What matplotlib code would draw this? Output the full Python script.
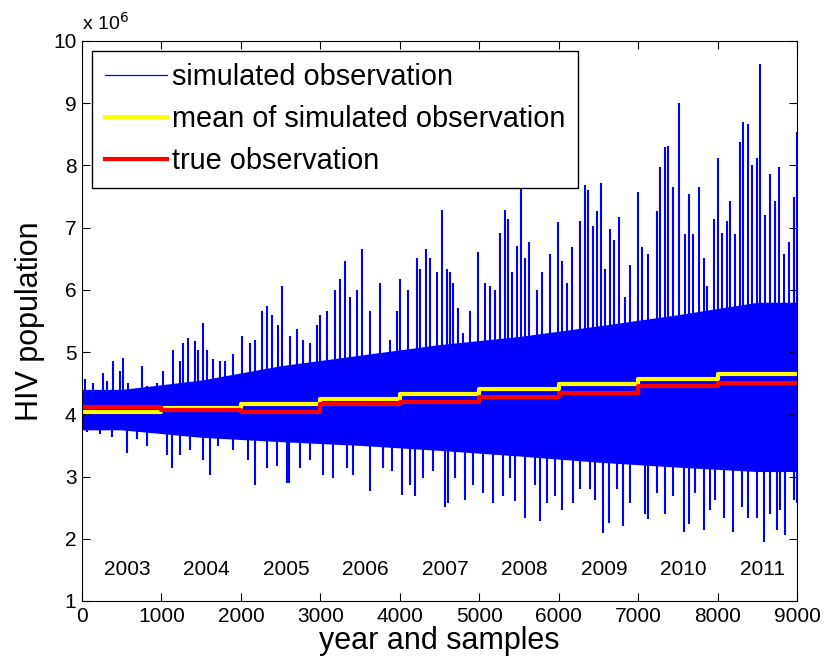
import numpy as np
import matplotlib.pyplot as plt

plt.rcParams['font.family'] = ['Liberation Sans', 'DejaVu Sans']

# year blocks (samples) and labels
year_start = [0, 1000, 2000, 3000, 4000, 5000, 6000, 7000, 8000]
years = ['2003', '2004', '2005', '2006', '2007', '2008', '2009', '2010', '2011']

# per-year levels, x 10^6
mean_sim = [4.03, 4.10, 4.17, 4.25, 4.33, 4.40, 4.49, 4.57, 4.64]
true_obs = [4.11, 4.07, 4.03, 4.17, 4.19, 4.27, 4.34, 4.46, 4.50]

# dense body of the simulated observations, read at the middle of each year
core_top = [4.40, 4.55, 4.78, 4.95, 5.12, 5.25, 5.42, 5.60, 5.80]
core_bot = [3.75, 3.63, 3.56, 3.50, 3.42, 3.33, 3.23, 3.15, 3.08]

# visible upward spikes (sample, value)
up_x = [38, 143, 269, 311, 395, 479, 512, 584, 751, 814, 940, 1024, 1150, 1234, 1268, 1339, 1423, 1465,
        1528, 1570, 1654, 1738, 1801, 1906, 2011, 2116, 2179, 2262, 2325, 2388, 2472, 2514, 2619, 2703, 2787, 2871, 2955,
        2996, 3080, 3185, 3248, 3311, 3374, 3458, 3521, 3626, 3752, 3877, 3961, 4003, 4108, 4213, 4255, 4331, 4381, 4465,
        4528, 4591, 4633, 4675, 4738, 4801, 4885, 4990, 5074, 5137, 5200, 5262, 5325, 5367, 5409, 5472, 5523, 5577, 5632,
        5724, 5787, 5892, 5997,
        6039, 6102, 6165, 6270, 6333, 6375, 6438, 6480, 6530, 6585, 6648, 6690, 6765, 6836, 6899, 7004, 7046, 7130, 7235,
        7269, 7340, 7382, 7445, 7516,
        7592, 7634, 7688, 7760, 7823, 7865, 7949, 8003, 8054, 8117, 8159, 8222, 8276, 8326, 8389, 8431, 8494, 8528, 8599,
        8662, 8725, 8767, 8830, 8893, 8956, 8998]
up_y = [4.57, 4.51, 4.66, 4.54, 4.86, 4.69, 4.90, 4.50, 4.77, 4.46, 4.51, 4.69, 5.03, 4.86, 5.14, 5.23, 5.17, 5.03,
        5.46, 5.03, 4.89, 4.86, 4.86, 4.97, 5.26, 5.14, 5.20, 5.66, 5.74, 5.60, 5.43, 6.06, 5.26, 5.37, 5.20, 5.14, 5.43,
        5.60, 5.66, 6.00, 6.17, 6.46, 5.89, 6.00, 6.66, 5.66, 6.11, 5.20, 5.66, 6.17, 6.00, 6.51, 6.34, 6.66, 6.51, 6.29,
        7.29, 6.34, 6.29, 6.11, 5.71, 5.31, 5.66, 6.60, 6.11, 6.06, 6.00, 6.91, 7.29, 7.14, 6.29, 6.71, 7.71, 6.51, 6.77,
        6.00, 6.29, 6.57, 7.09,
        6.46, 6.11, 6.69, 7.11, 7.69, 7.60, 7.03, 7.26, 7.71, 6.34, 6.97, 6.80, 7.17, 5.89, 6.40, 7.57, 6.69, 6.57, 7.26,
        7.97, 8.29, 8.31, 7.66, 9.00,
        6.89, 7.54, 6.89, 7.66, 6.51, 6.06, 7.14, 8.11, 6.91, 7.11, 7.43, 6.89, 8.37, 8.69, 8.66, 8.00, 8.11, 9.63, 7.20,
        7.86, 7.43, 7.97, 6.57, 6.77, 7.49, 8.54]

# visible downward spikes (sample, value)
dn_x = [59, 227, 374, 563, 688, 814, 1066, 1129, 1234, 1360,
        1528, 1612, 1717, 1906, 2095, 2179, 2325, 2451, 2577, 2611, 2745, 2871,
        3038, 3164, 3332, 3416, 3626, 3793, 3898, 4024, 4129, 4192, 4297, 4423,
        4570, 4612, 4696, 4822, 4927, 5053, 5179, 5304, 5388, 5451, 5577, 5703, 5766, 5850, 5955,
        6039, 6186, 6270, 6396, 6459, 6564, 6627, 6731, 6815, 6899, 7025, 7088, 7130, 7235, 7340, 7445,
        7571, 7634, 7718, 7823, 7907, 7970, 8075, 8200, 8305, 8389, 8494, 8578, 8662, 8746, 8788, 8851, 8956, 8998]
dn_y = [3.71, 3.69, 3.63, 3.37, 3.60, 3.49, 3.34, 3.14, 3.34, 3.43,
        3.26, 3.03, 3.49, 3.43, 3.26, 2.86, 3.14, 3.17, 2.89, 2.89, 3.14, 3.26,
        3.03, 2.97, 3.14, 3.03, 2.77, 3.14, 3.09, 2.71, 2.86, 2.69, 2.97, 3.09,
        2.51, 2.57, 2.97, 2.63, 2.86, 2.74, 2.57, 2.69, 2.97, 2.60, 2.34, 2.86, 2.29, 2.57, 2.69,
        2.46, 2.57, 2.80, 2.80, 2.63, 2.09, 2.26, 2.80, 2.20, 2.57, 3.26, 2.40, 2.31, 2.74, 2.40, 2.69,
        2.11, 2.23, 2.74, 2.14, 2.46, 2.63, 2.34, 2.11, 2.51, 2.34, 2.34, 1.94, 2.40, 2.14, 2.46, 2.06, 2.63, 2.57]

scale = 1e6
edges = year_start + [9000]
blue = (0, 0, 1)

fig = plt.figure(figsize=(8.25, 6.7), dpi=100)
ax = fig.add_axes([0.0994, 0.103, 0.8667, 0.836])

# simulated observations: dense body plus the single samples that stick out of it
mid = [0] + [s + 500 for s in year_start] + [9000]
body_hi = np.array([core_top[0]] + core_top + [core_top[-1]])
body_lo = np.array([core_bot[0]] + core_bot + [core_bot[-1]])
ax.fill_between(mid, body_lo * scale, body_hi * scale, color=blue, lw=0)
ax.vlines(up_x, 4.2 * scale, np.array(up_y) * scale, color=blue, lw=1.5)
ax.vlines(dn_x, np.array(dn_y) * scale, 4.2 * scale, color=blue, lw=1.5)
ax.plot([], [], color=blue, lw=0.9, label='simulated observation')

ax.plot(edges, np.array(mean_sim + [mean_sim[-1]]) * scale, drawstyle='steps-post', color=(1, 1, 0), lw=3,
        label='mean of simulated observation')
ax.plot(edges, np.array(true_obs + [true_obs[-1]]) * scale, drawstyle='steps-post', color=(1, 0, 0), lw=3,
        label='true observation')

for ys, lab in zip(year_start, years):
    ax.text(ys + 570, 1.5 * scale, lab, ha='center', va='center', fontsize=15)

ax.set_xlim(0, 9000)
ax.set_ylim(1 * scale, 10 * scale)
ax.set_xticks(range(0, 9001, 1000))
ax.set_yticks(np.arange(1, 11) * scale)
ax.set_yticklabels([str(i) for i in range(1, 11)])
ax.tick_params(direction='in', top=True, right=True, labelsize=15, length=6, width=0.8, pad=4)
ax.text(0, 1.012, r'x 10$^6$', transform=ax.transAxes, fontsize=14, ha='left', va='bottom')

ax.set_xlabel('year and samples', fontsize=22, labelpad=0)
ax.set_ylabel('HIV population', fontsize=22, labelpad=6)

leg = ax.legend(loc='upper left', fontsize=20.8, fancybox=False, framealpha=1, edgecolor='black',
                borderaxespad=0.35, handlelength=2.15, handletextpad=0.2, borderpad=0.43, labelspacing=0.48)
leg.get_frame().set_linewidth(1.0)

fig.savefig('out.png', dpi=100)
